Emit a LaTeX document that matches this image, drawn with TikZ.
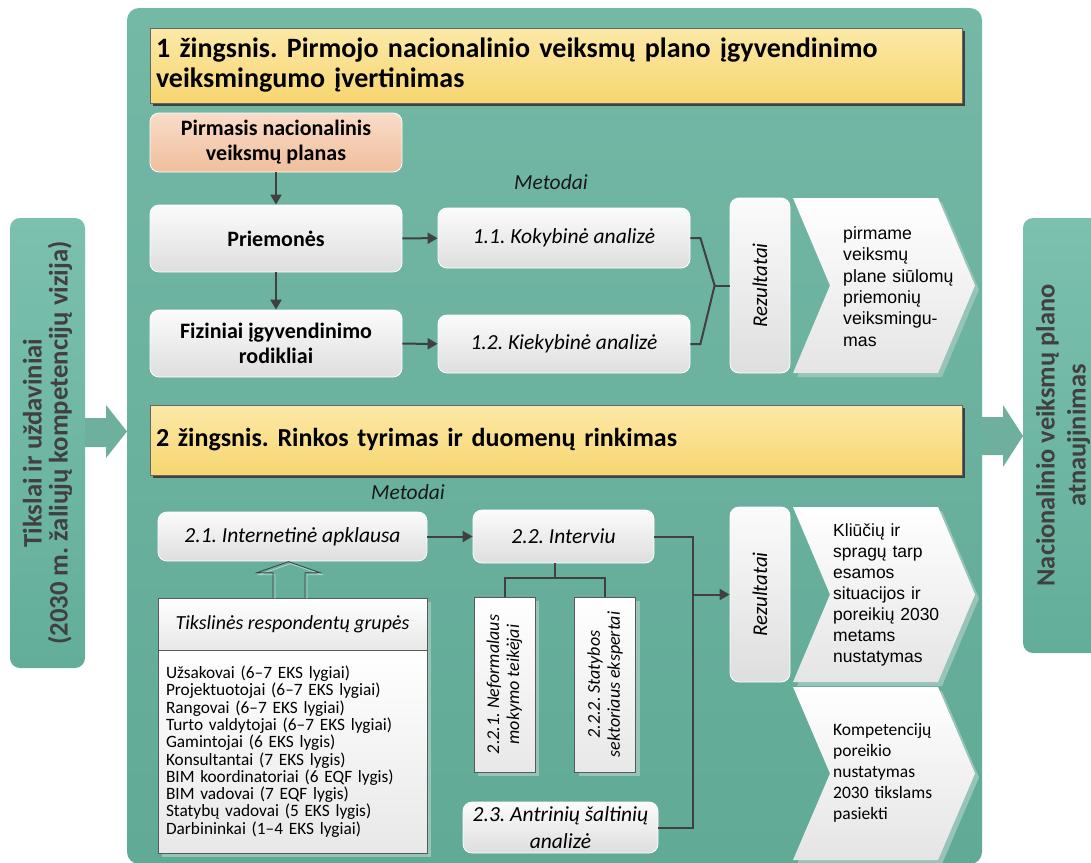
\documentclass[tikz,border=0pt]{standalone}
\usepackage{fontspec}
\setmainfont{Carlito}
\newfontfamily\arialfont{Liberation Sans}
\usetikzlibrary{arrows.meta,calc,shadows}
\frenchspacing

\definecolor{panelTop}{RGB}{116,184,166}
\definecolor{panelBot}{RGB}{96,170,150}
\definecolor{sideL}{RGB}{124,192,175}
\definecolor{sideR}{RGB}{98,174,154}
\definecolor{yelTop}{RGB}{252,233,168}
\definecolor{yelBot}{RGB}{247,214,112}
\definecolor{peachTop}{RGB}{249,220,200}
\definecolor{peachBot}{RGB}{240,190,156}
\definecolor{softTop}{RGB}{251,251,251}
\definecolor{softBot}{RGB}{222,222,222}
\definecolor{lineGray}{RGB}{64,64,64}
\definecolor{txtGray}{RGB}{64,64,64}
\definecolor{shadeTeal}{RGB}{150,196,184}

\begin{document}
\begin{tikzpicture}[x=1pt,y=-1pt,
  panel/.style={rounded corners=12pt, top color=panelTop, bottom color=panelBot, inner sep=0pt},
  sidebox/.style={rotate=90, rounded corners=10pt, top color=sideL, bottom color=sideR, text=txtGray,
    align=center, inner sep=0pt},
  bigarrow/.style={fill=panelTop!95!black},
  stepbox/.style={draw=gray!80!black, top color=yelTop, bottom color=yelBot, minimum width=812pt,
    text width=800pt, align=left, inner xsep=6pt,
    drop shadow={shadow xshift=3pt, shadow yshift=-3pt, fill=black!75, opacity=1}},
  softbox/.style={rounded corners=9pt, draw=white, line width=0.8pt, top color=softTop, bottom color=softBot,
    minimum width=252pt, align=center, inner sep=2pt, font=\bfseries\fontsize{22}{25}\selectfont},
  planbox/.style={softbox, top color=peachTop, bottom color=peachBot},
  method/.style={softbox, font=\itshape\fontsize{21.5}{24}\selectfont},
  result/.style={softbox, rotate=90, minimum width=175pt, minimum height=60pt, font=\itshape\fontsize{21}{22}\selectfont},
  flatbox/.style={draw=gray!70!black, line width=0.7pt, top color=white, bottom color=softBot!70!white, inner sep=2pt,
    drop shadow={shadow xshift=4pt, shadow yshift=-4pt, fill=shadeTeal, opacity=1}},
  tag/.style={font=\itshape\fontsize{21.5}{22}\selectfont, text=black!90},
  chevtext/.style={font=\arialfont\fontsize{17.7}{21.4}\selectfont, text width=135pt, align=left,
    inner sep=0pt, anchor=west},
  chev/.style={top color=white, bottom color=softBot!80!white},
  chevshade/.style={fill=shadeTeal},
  link/.style={draw=lineGray, line width=2pt},
  conn/.style={link, -{Triangle[length=10pt,width=11pt]}},
  hollow/.style={draw=lineGray, line width=0.8pt}]
\useasboundingbox (0,0) rectangle (1091,862);

% background panels
\node[panel, minimum width=855pt, minimum height=856pt] (main) at (554.5,436) {};
\node[sidebox, minimum width=450pt, minimum height=75pt, font=\bfseries\fontsize{26.7}{26}\selectfont]
  (goals) at (47.5,443) {Tikslai ir uždaviniai\\(2030 m. žaliųjų kompetencijų vizija)};
\node[sidebox, minimum width=435pt, minimum height=80pt, font=\bfseries\fontsize{26.4}{31}\selectfont]
  (update) at (1063,435.5) {Nacionalinio veiksmų plano\\atnaujinimas};
\fill[bigarrow] (85,418) -- (106,418) -- (106,405) -- (127,431.5) -- (106,458) -- (106,447) -- (85,447) -- cycle;
\fill[bigarrow] (982,417) -- (1003,417) -- (1003,405) -- (1023,436) -- (1003,467) -- (1003,455) -- (982,455) -- cycle;

% step 1
\node[stepbox, minimum height=75pt, font=\bfseries\fontsize{28}{30}\selectfont] (step1) at (556,65.5)
  {1 žingsnis. Pirmojo nacionalinio veiksmų plano įgyvendinimo\\veiksmingumo įvertinimas};
\node[planbox, minimum height=59pt] (plan) at (276,142.5) {Pirmasis nacionalinis\\veiksmų planas};
\node[softbox, minimum height=67pt] (measures) at (276,238.5) {Priemonės};
\node[softbox, minimum height=67pt] (indicators) at (276,343.5) {Fiziniai įgyvendinimo\\rodikliai};
\node[tag] (methods1) at (551,182) {Metodai};
\node[method, minimum height=60pt] (qual) at (564,238) {1.1. Kokybinė analizė};
\node[method, minimum height=58pt] (quant) at (564,344) {1.2. Kiekybinė analizė};
\node[result] (res1) at (760,285.5) {Rezultatai};
\coordinate (fork) at ([xshift=-15pt]res1.north);

\draw[conn] (plan) -- (measures);
\draw[conn] (measures) -- (indicators);
\draw[conn] (measures) -- (qual);
\draw[conn] (indicators) -- (quant);
\draw[link] (qual.east) -- ++(10,0) -- (fork) -- ([xshift=10pt]quant.east) -- (quant.east);
\draw[link] (fork) -- (res1.north);

% chevrons
\foreach \ya/\yb in {198/373,507/682,687/860}{
  \pgfmathsetmacro\ym{(\ya+\yb)/2}
  \fill[chevshade] (797,\ya+4) -- (942,\ya+4) -- (979,\ym+4) -- (942,\yb+4) -- (797,\yb+4) -- (834,\ym+4) -- cycle;
  \path[chev] (793,\ya) -- (938,\ya) -- (975,\ym) -- (938,\yb) -- (793,\yb) -- (830,\ym) -- cycle;
}
\node[chevtext] (out1) at (843,286.5) {pirmame\\veiksmų\\plane siūlomų\\priemonių\\veiksmingu-\\mas};
\node[chevtext, font=\arialfont\fontsize{17.5}{21}\selectfont] (out2) at (833,595)
  {Kliūčių ir\\spragų tarp\\esamos\\situacijos ir\\poreikių 2030\\metams\\nustatymas};
\node[chevtext, font=\fontsize{17.5}{21}\selectfont] (out3) at (833,772.5)
  {Kompetencijų\\poreikio\\nustatymas\\2030 tikslams\\pasiekti};

% step 2
\node[stepbox, minimum height=70pt, font=\bfseries\fontsize{26}{30}\selectfont] (step2) at (556,440)
  {2 žingsnis. Rinkos tyrimas ir duomenų rinkimas};
\node[tag] (methods2) at (408,492) {Metodai};
\node[method, minimum width=269pt, minimum height=49pt] (survey) at (292.5,536.5) {2.1. Internetinė apklausa};
\node[method, minimum width=181pt, minimum height=53pt] (interview) at (563.5,536.5) {2.2. Interviu};
\node[flatbox, minimum width=269pt, minimum height=52pt, font=\itshape\fontsize{20}{22}\selectfont] (groupshead)
  at (292.5,624) {Tikslinės respondentų grupės};
\node[flatbox, minimum width=269pt, minimum height=203pt, text width=253pt, align=left,
  font=\fontsize{17.3}{17.3}\selectfont] (groups) at (292.5,751.5)
  {Užsakovai (6–7 EKS lygiai)\\Projektuotojai (6–7 EKS lygiai)\\Rangovai (6–7 EKS lygiai)\\
   Turto valdytojai (6–7 EKS lygiai)\\Gamintojai (6 EKS lygis)\\Konsultantai (7 EKS lygis)\\
   BIM koordinatoriai (6 EQF lygis)\\BIM vadovai (7 EQF lygis)\\Statybų vadovai (5 EKS lygis)\\
   Darbininkai (1–4 EKS lygiai)};
\node[flatbox, rotate=90, minimum width=175pt, minimum height=61pt, align=center,
  font=\itshape\fontsize{18}{20}\selectfont] (trainers) at (504.5,684.5) {2.2.1. Neformalaus\\mokymo teikėjai};
\node[flatbox, rotate=90, minimum width=175pt, minimum height=61pt, align=center,
  font=\itshape\fontsize{18}{20}\selectfont] (experts) at (605,684.5) {2.2.2. Statybos\\sektoriaus ekspertai};
\node[method, minimum width=195pt, minimum height=51pt, font=\itshape\fontsize{21.5}{27}\selectfont]
  (secondary) at (560.5,827.5) {2.3. Antrinių šaltinių\\analizė};
\node[result] (res2) at (760,594.5) {Rezultatai};
\coordinate (merge) at ([xshift=-37pt]res2.north);
\coordinate (split) at ($(trainers.east)!.5!(experts.east)+(0,-19)$);
\coordinate (up) at ([xshift=-4pt]groupshead.north);

\draw[conn] (survey) -- (interview);
\draw[conn] (interview.east) -| (merge) -- (res2.north);
\draw[link] (secondary.east) -| (merge);
\draw[link] (trainers.east) |- (split) -| (experts.east);
\draw[link] (split) -- (split |- interview.south);
\draw[hollow, white, opacity=.5, shift={(up)}, xshift=2pt, yshift=-2pt]
  (-15.5,0) -- (-15.5,-25) -- (-31.5,-25) -- (0,-36) -- (31.5,-25) -- (16.5,-25) -- (16.5,0);
\draw[hollow, shift={(up)}]
  (-15.5,0) -- (-15.5,-25) -- (-31.5,-25) -- (0,-36) -- (31.5,-25) -- (16.5,-25) -- (16.5,0);
\end{tikzpicture}
\end{document}
